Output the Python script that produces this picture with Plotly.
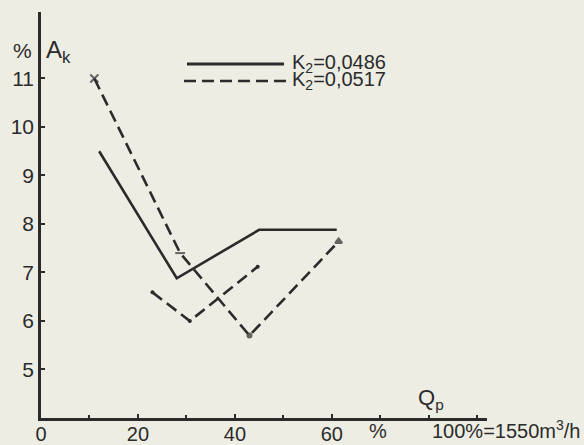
import plotly.graph_objects as go

# Data
qp_k1 = [12, 28, 45, 61]
ak_k1 = [9.5, 6.88, 7.88, 7.88]

qp_k2a = [11, 28.7, 43, 61.4]
ak_k2a = [11.0, 7.4, 5.7, 7.64]

qp_k2b = [23, 30.7, 44.7]
ak_k2b = [6.59, 6.0, 7.12]

x_ticks = [0, 20, 40, 60]
y_ticks = [5, 6, 7, 8, 9, 10, 11]

legend_labels = ["K<sub>2</sub>=0,0486", "K<sub>2</sub>=0,0517"]

ink = "#2b2b2b"
bg = "#edede4"
FONT = "Liberation Sans, Arial, sans-serif"

fig = go.Figure()
fig.add_trace(go.Scatter(x=qp_k1, y=ak_k1, mode="lines",
                         line=dict(color=ink, width=2.6), showlegend=False))
fig.add_trace(go.Scatter(x=qp_k2a, y=ak_k2a, mode="lines+markers",
                         line=dict(color=ink, width=2.6, dash="12px,6px"),
                         marker=dict(symbol=["x-thin", "line-ew", "circle", "triangle-up"],
                                     size=[8, 7, 4, 6], color=ink,
                                     line=dict(color=ink, width=2)),
                         showlegend=False))
fig.add_trace(go.Scatter(x=qp_k2b, y=ak_k2b, mode="lines+markers",
                         line=dict(color=ink, width=2.6, dash="12px,6px"),
                         marker=dict(symbol="circle", size=4, color=ink),
                         showlegend=False))

# Manual legend
fig.add_shape(type="line", xref="paper", yref="paper",
              x0=(187 - 41) / 446, x1=(284 - 41) / 446,
              y0=(418 - 64) / 406, y1=(418 - 64) / 406,
              line=dict(color=ink, width=3))
fig.add_shape(type="line", xref="paper", yref="paper",
              x0=(184 - 41) / 446, x1=(287 - 41) / 446,
              y0=(418 - 81) / 406, y1=(418 - 81) / 406,
              line=dict(color=ink, width=2.6, dash="12px,6px"))
for lbl, yy in zip(legend_labels, [64, 81]):
    fig.add_annotation(xref="paper", yref="paper", x=(290 - 41) / 446,
                       y=(418 - yy) / 406, text=lbl, showarrow=False,
                       xanchor="left", yanchor="middle",
                       font=dict(family=FONT, size=20, color=ink))

# Axis titles
fig.add_annotation(xref="paper", yref="paper", x=(22 - 41) / 446, y=(418 - 50) / 406,
                   text="%", showarrow=False, xanchor="center", yanchor="middle",
                   font=dict(family=FONT, size=21, color=ink))
fig.add_annotation(xref="paper", yref="paper", x=(44 - 41) / 446, y=(418 - 52) / 406,
                   text="A<sub>k</sub>", showarrow=False, xanchor="left", yanchor="middle",
                   font=dict(family=FONT, size=24, color=ink))
fig.add_annotation(xref="paper", yref="paper", x=(416 - 41) / 446, y=(418 - 399) / 406,
                   text="Q<sub>p</sub>", showarrow=False, xanchor="left", yanchor="middle",
                   font=dict(family=FONT, size=22, color=ink))
fig.add_annotation(xref="paper", yref="paper", x=(378 - 41) / 446, y=-(444 - 418) / 406,
                   text="%", showarrow=False, xanchor="center", yanchor="bottom",
                   font=dict(family=FONT, size=20, color=ink))
fig.add_annotation(xref="paper", yref="paper", x=(582 - 41) / 446, y=-(444 - 418) / 406,
                   text="100%=1550m<sup>3</sup>/h", showarrow=False, xanchor="right",
                   yanchor="bottom", font=dict(family=FONT, size=20, color=ink))

fig.update_layout(
    width=584, height=445,
    margin=dict(l=41, r=97, t=12, b=27, autoexpand=False),
    paper_bgcolor=bg, plot_bgcolor=bg,
    font=dict(family=FONT, size=20, color=ink),
    xaxis=dict(range=[0, 92], tickvals=x_ticks, ticktext=[str(v) for v in x_ticks],
               automargin=False, ticklabelstandoff=-4,
               showgrid=False, zeroline=False, showline=True, linecolor=ink, linewidth=2.5,
               ticks="inside", ticklen=4, tickcolor=ink, tickwidth=2,
               minor=dict(dtick=10, ticks="inside", ticklen=3, tickcolor=ink, tickwidth=2),
               tickfont=dict(family=FONT, size=20, color=ink)),
    yaxis=dict(range=[4, 12.37], tickvals=y_ticks, ticktext=[str(v) for v in y_ticks],
               automargin=False,
               showgrid=False, zeroline=False, showline=True, linecolor=ink, linewidth=2.5,
               ticks="inside", ticklen=4, tickcolor=ink, tickwidth=2,
               tickfont=dict(family=FONT, size=21, color=ink)),
)

fig.write_html("out.html", config={"displayModeBar": False},
               post_script="document.body.style.margin='0';"
                           "document.body.style.background='#edede4';")
